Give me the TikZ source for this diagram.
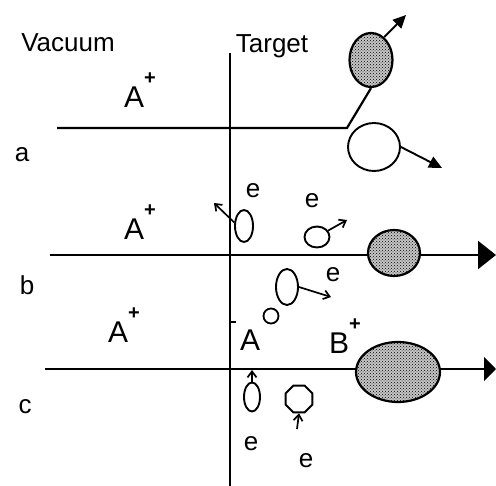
\documentclass[tikz,border=0pt]{standalone}
\usepackage{fontspec}
\setmainfont{Liberation Sans}
\usetikzlibrary{shapes.geometric,arrows.meta,patterns}
\newcommand{\supplus}{\raisebox{0.78em}{\fontsize{20}{20}\selectfont\bfseries +}}
\tikzset{
  lbl/.style={font=\fontsize{26}{26}\selectfont, inner sep=0pt},
  albl/.style={font=\fontsize{30}{30}\selectfont, inner sep=0pt},
  elbl/.style={font=\fontsize{26}{26}\selectfont, inner sep=0pt},
  axis/.style={line width=2.2pt},
  shaded/.style={ellipse, draw, line width=2.2pt, inner sep=0pt, preaction={fill=gray!45}, pattern=crosshatch dots},
  hollow/.style={ellipse, draw, line width=1.9pt, inner sep=0pt},
  bigtip/.style={-{Triangle[length=18pt,width=28pt]}},
  midtip/.style={-{Triangle[length=12pt,width=24pt]}},
  smalltip/.style={-{Triangle[length=13pt,width=12pt]}},
  etip/.style={-{Straight Barb[length=6pt,width=9pt]}, line width=1.7pt},
}
\begin{document}
\begin{tikzpicture}[x=1pt,y=-1pt]
\useasboundingbox (0,0) rectangle (496,486);
% titles
\node[lbl] (vac) at (68,43) {Vacuum};
\node[lbl] (tgt) at (272,46) {Target};
\node[lbl] (la) at (22,155) {a};
\node[lbl] (lb) at (27,285) {b};
\node[lbl] (lc) at (25,407) {c};
% vertical interface
\coordinate (vt) at (230,53);
\coordinate (vb) at (230,486);
\draw[axis] (vt) -- (vb);
% row a
\node[albl, anchor=south west] (aA) at (124,108) {A\supplus};
\node[shaded, minimum width=43pt, minimum height=54pt] (sa) at (371,60) {};
\node[hollow, minimum width=52pt, minimum height=48pt] (ha) at (374,147) {};
\coordinate (a0) at (57,128);
\coordinate (a1) at (347,128);
\draw[axis] (a0) -- (a1) -- (sa.south);
\coordinate (sat) at (406,15);
\draw[line width=1.9pt, smalltip] (sa.60) -- (sat);
\coordinate (hat) at (442,168);
\draw[line width=1.9pt, smalltip] (ha.east) -- (hat);
% row b
\node[albl, anchor=south west] (bA) at (124,240) {A\supplus};
\coordinate (b0) at (50,255);
\coordinate (b1) at (496,255);
\draw[axis, bigtip] (b0) -- (b1);
\node[shaded, minimum width=52pt, minimum height=46pt] (sb) at (394,253) {};
\node[hollow, minimum width=18pt, minimum height=32pt] (e1) at (244,226) {};
\coordinate (e1t) at (214,203);
\draw[etip] (e1.160) -- (e1t);
\node[elbl] (e1l) at (253,191) {e};
\node[hollow, minimum width=25pt, minimum height=21pt] (e2) at (317,237) {};
\coordinate (e2t) at (347,220);
\draw[etip] (e2.30) -- (e2t);
\node[elbl] (e2l) at (312,201) {e};
\node[hollow, minimum width=22pt, minimum height=36pt] (e3) at (287,287) {};
\coordinate (e3t) at (331,297);
\draw[etip] (e3.east) -- (e3t);
\node[elbl] (e3l) at (333,275) {e};
% row c
\node[albl, anchor=south west] (cA) at (108,343) {A\supplus};
\coordinate (c0) at (45,369);
\coordinate (c1) at (496,369);
\draw[axis, midtip] (c0) -- (c1);
\node[shaded, minimum width=84pt, minimum height=60pt] (sc) at (398,372) {};
\coordinate (tk0) at (230,322);
\coordinate (tk1) at (236,322);
\draw[line width=1.6pt] (tk0) -- (tk1);
\node[albl, anchor=south west] (A0) at (240,351) {A};
\node[hollow, minimum width=15pt, minimum height=15pt, line width=1.8pt] (o0) at (271,316) {};
\node[albl, anchor=south west] (Bp) at (329,354) {B\supplus};
\node[hollow, minimum width=16pt, minimum height=29pt] (e4) at (252,397) {};
\coordinate (e4t) at (252,370);
\draw[etip] (e4.north) -- (e4t);
\node[elbl] (e4l) at (251,444) {e};
\node[regular polygon, regular polygon sides=8, draw, line width=1.9pt, minimum size=29pt, inner sep=0pt] (oct) at (299,399) {};
\coordinate (octb) at (297,429);
\draw[etip] (octb) -- (oct.south);
\node[elbl] (e5l) at (306,461) {e};
\end{tikzpicture}
\end{document}
